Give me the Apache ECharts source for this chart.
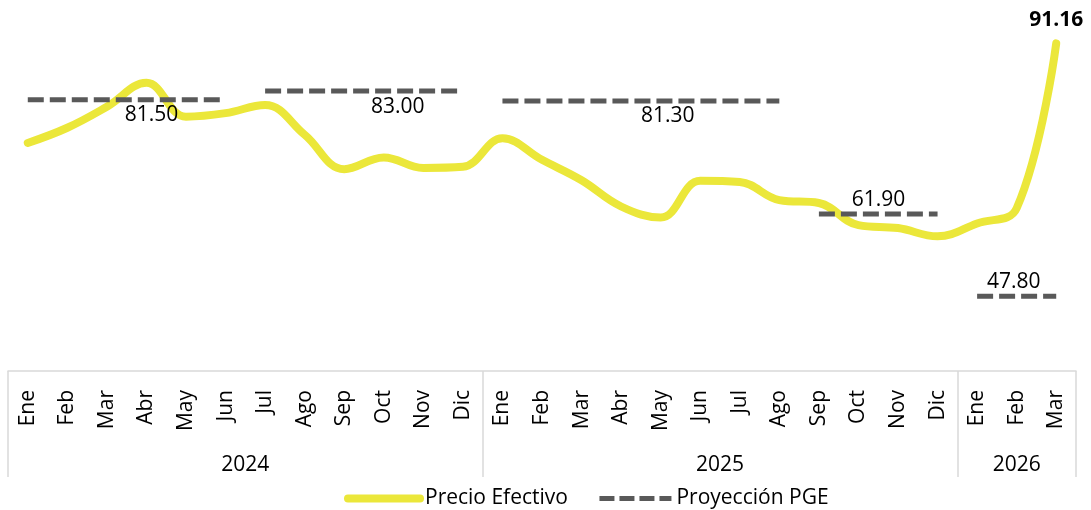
<!DOCTYPE html>
<html>
<head>
<meta charset="utf-8">
<script src="https://cdn.jsdelivr.net/npm/echarts@6/dist/echarts.min.js"></script>
<style>
  html, body { margin: 0; padding: 0; background: #fff; }
  #panel { width: 1091px; height: 510px; }
</style>
</head>
<body>
<div id="panel"></div>
<script>
const months = ['Ene', 'Feb', 'Mar', 'Abr', 'May', 'Jun', 'Jul', 'Ago', 'Sep', 'Oct', 'Nov', 'Dic',
  'Ene', 'Feb', 'Mar', 'Abr', 'May', 'Jun', 'Jul', 'Ago', 'Sep', 'Oct', 'Nov', 'Dic',
  'Ene', 'Feb', 'Mar'];
const years = ['2024', '2025', '2026'];
const monthsPerYear = [12, 12, 3];
const precioEfectivo = [74.1, 76.7, 80.3, 84.4, 78.6, 79.2, 80.6, 75.5, 69.6, 71.6, 69.8, 70.0,
  74.9, 71.2, 67.7, 63.2, 61.3, 67.6, 67.4, 64.3, 63.8, 60.0, 59.5, 58.1,
  60.3, 62.9, 91.16];
// proyección PGE: valor y rango de meses (índices) de cada tramo
const pgeValues = [81.5, 83.0, 81.3, 61.9, 47.8];
const pgeFrom = [0, 6, 12, 20, 24];
const pgeTo = [5, 11, 19, 23, 26];

const FONT = 'Open Sans';
const YELLOW = '#EBE73A';
const GREY = '#595959';
const BORDER = '#D9D9D9';

// eje de años: puntos cada medio mes, etiqueta en el centro de cada año
const yearAxis = [];
const yearTicks = [0];
const yearLabels = {};
let acc = 0;
years.forEach((y, i) => {
  yearLabels[acc * 2 + monthsPerYear[i]] = y;
  acc += monthsPerYear[i];
  yearTicks.push(acc * 2);
});
for (let i = 0; i <= months.length * 2; i++) yearAxis.push(yearLabels[i] || '');

// dónde va la etiqueta de cada tramo
const pgeLabelStyle = [
  { idx: 3, position: 'bottom', distance: 5, offset: [5, 0] },
  { idx: 9, position: 'bottom', distance: 6, offset: [14, 0] },
  { idx: 16, position: 'bottom', distance: 5, offset: [7, 0] },
  { idx: 21, position: 'top', distance: 4, offset: [20, 0] },
  { idx: 25, position: 'top', distance: 4, offset: [-3, 0] },
];

const pgeSeries = pgeValues.map((v, k) => {
  const data = months.map((m, i) => {
    if (i < pgeFrom[k] || i > pgeTo[k]) return null;
    const s = pgeLabelStyle[k];
    if (i === s.idx) {
      return {
        value: v,
        label: {
          show: true, position: s.position, distance: s.distance, offset: s.offset,
          formatter: (p) => p.value.toFixed(2),
          fontFamily: FONT, fontSize: 21, color: '#000',
        },
      };
    }
    return v;
  });
  return {
    name: 'Proyección PGE',
    type: 'line',
    data: data,
    symbol: 'circle',
    symbolSize: 0,
    silent: true,
    z: 5,
    lineStyle: { color: GREY, width: 5, type: [16, 6], cap: 'butt' },
    itemStyle: { color: GREY },
  };
});

const lastIdx = precioEfectivo.length - 1;
const precioData = precioEfectivo.map((v, i) => i === lastIdx ? {
  value: v,
  label: {
    show: true, position: 'top', distance: 13,
    formatter: (p) => p.value.toFixed(2),
    fontFamily: FONT, fontSize: 21, fontWeight: 'bold', color: '#000',
  },
} : v);

const myChart = echarts.init(document.getElementById('panel'));
const option = {
  backgroundColor: '#fff',
  animation: false,
  textStyle: { fontFamily: FONT },
  grid: { left: 8, right: 15, top: 21, bottom: 139 },
  legend: {
    data: [
      { name: 'Precio Efectivo', lineStyle: { width: 8, cap: 'round' } },
      { name: 'Proyección PGE', lineStyle: { width: 5, type: [15, 5], cap: 'butt' } },
    ],
    left: 344,
    top: 488,
    padding: 0,
    itemWidth: 72,
    itemHeight: 14,
    itemGap: 29,
    itemStyle: { opacity: 0 },
    textStyle: { fontFamily: FONT, fontSize: 21, color: '#000' },
  },
  xAxis: [
    {
      type: 'category',
      data: months,
      position: 'bottom',
      axisLine: { show: true, lineStyle: { color: BORDER, width: 1.5 } },
      axisTick: { show: false },
      axisLabel: {
        rotate: 90, margin: 19, interval: 0,
        fontFamily: FONT, fontSize: 21, color: '#000',
      },
    },
    {
      type: 'category',
      data: yearAxis,
      boundaryGap: false,
      position: 'bottom',
      axisLine: { show: false },
      axisTick: {
        show: true, length: 106,
        interval: (i) => yearTicks.indexOf(i) >= 0,
        lineStyle: { color: BORDER, width: 1.5 },
      },
      axisLabel: {
        margin: 84,
        interval: (i, v) => v !== '',
        fontFamily: FONT, fontSize: 21, color: '#000',
      },
    },
  ],
  yAxis: { type: 'value', min: 35, max: 95, show: false },
  series: [
    {
      name: 'Precio Efectivo',
      type: 'line',
      data: precioData,
      smooth: 0.4,
      symbol: 'circle',
      symbolSize: 0,
      z: 4,
      lineStyle: { color: YELLOW, width: 8, cap: 'round', join: 'round' },
      itemStyle: { color: YELLOW },
    },
    ...pgeSeries,
  ],
};
myChart.setOption(option);
</script>
</body>
</html>
